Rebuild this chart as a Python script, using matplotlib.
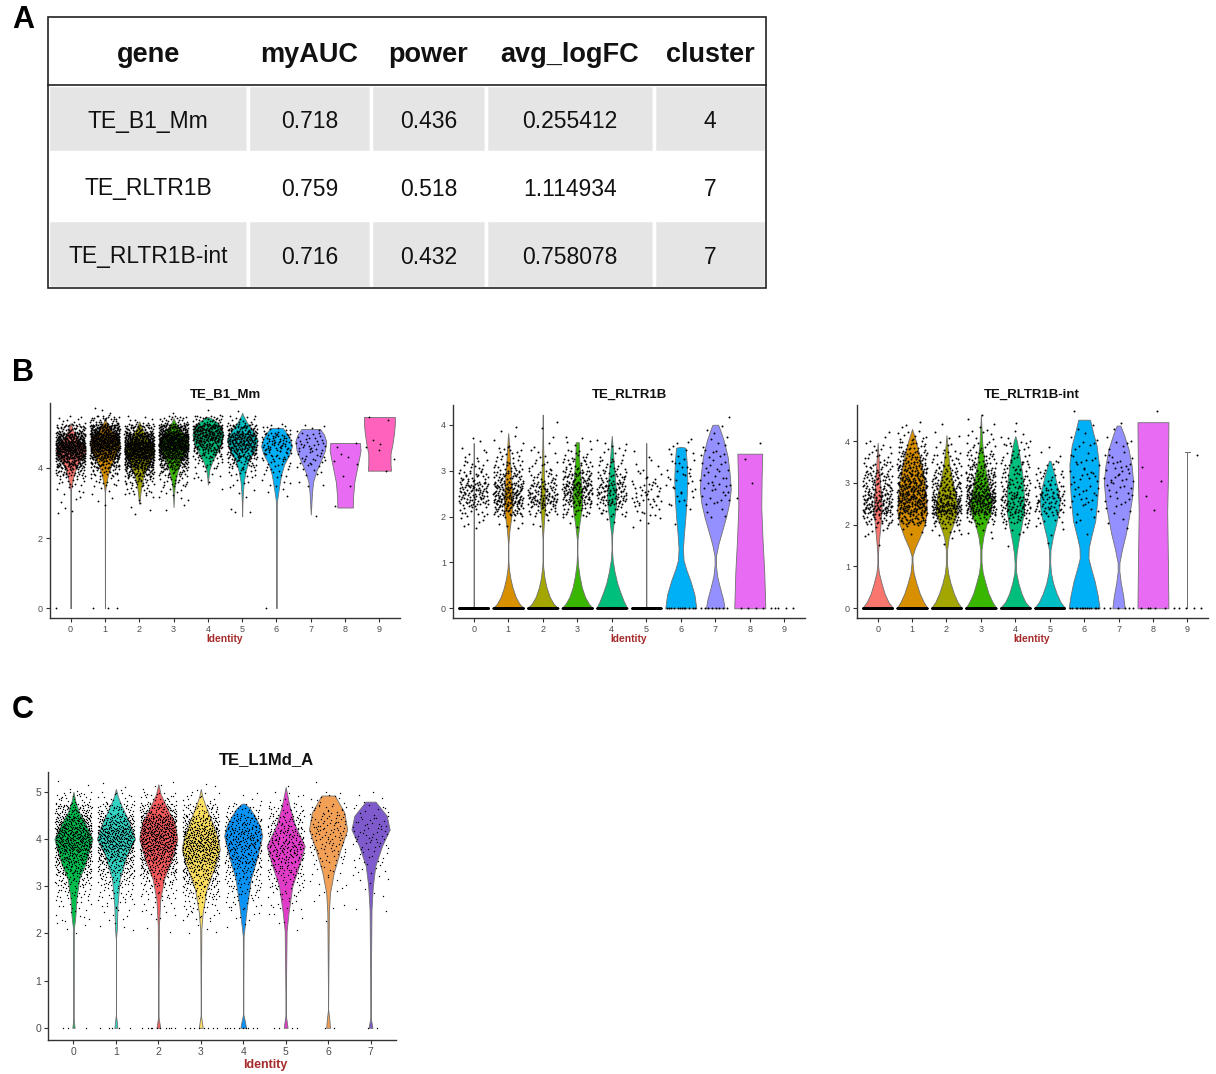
import numpy as np
import matplotlib
matplotlib.use("Agg")
import matplotlib.pyplot as plt
from matplotlib.patches import Rectangle

plt.rcParams['font.family'] = ['Liberation Sans', 'DejaVu Sans']

# ---- panel A : table ----
tab_cols = ['gene', 'myAUC', 'power', 'avg_logFC', 'cluster']
tab_gene = ['TE_B1_Mm', 'TE_RLTR1B', 'TE_RLTR1B-int']
tab_auc = ['0.718', '0.759', '0.716']
tab_power = ['0.436', '0.518', '0.432']
tab_logfc = ['0.255412', '1.114934', '0.758078']
tab_cluster = ['4', '7', '7']

# ---- panel B / C : violin data ----
# violin outlines: (expression, relative width) pairs
b1_prof = [
    [(0, 0), (3.35, 0), (3.45, 0.06), (3.7, 0.15), (3.95, 0.32), (4.15, 0.55), (4.35, 0.85), (4.5, 1.0), (4.65, 0.85), (4.85, 0.45), (5.05, 0.18), (5.28, 0)],
    [(0, 0), (3.3, 0.01), (3.5, 0.06), (3.8, 0.2), (4.1, 0.42), (4.4, 0.75), (4.7, 1.0), (4.9, 0.8), (5.1, 0.35), (5.3, 0.08), (5.42, 0)],
    [(2.98, 0), (3.2, 0.06), (3.5, 0.14), (3.8, 0.3), (4.1, 0.58), (4.35, 0.88), (4.5, 1.0), (4.7, 0.8), (4.95, 0.42), (5.15, 0.15), (5.33, 0)],
    [(2.88, 0), (3.2, 0.03), (3.5, 0.08), (3.8, 0.2), (4.1, 0.4), (4.4, 0.7), (4.65, 1.0), (4.85, 0.85), (5.1, 0.45), (5.3, 0.12), (5.42, 0)],
    [(3.52, 0), (3.7, 0.03), (3.95, 0.1), (4.2, 0.3), (4.45, 0.6), (4.7, 0.88), (4.95, 1.0), (5.15, 0.9), (5.3, 0.6), (5.42, 0.2), (5.45, 0)],
    [(2.62, 0), (3.0, 0.02), (3.3, 0.05), (3.6, 0.1), (3.9, 0.22), (4.2, 0.42), (4.5, 0.8), (4.8, 1.0), (5.05, 0.7), (5.3, 0.3), (5.5, 0.06), (5.57, 0)],
    [(0, 0), (2.9, 0.01), (3.1, 0.05), (3.4, 0.15), (3.8, 0.3), (4.1, 0.5), (4.4, 0.85), (4.62, 1.0), (4.85, 0.85), (5.05, 0.55), (5.14, 0.4), (5.14, 0)],
    [(2.67, 0), (2.9, 0.03), (3.3, 0.08), (3.6, 0.15), (3.9, 0.35), (4.2, 0.65), (4.5, 0.92), (4.76, 1.0), (4.95, 0.85), (5.11, 0.6), (5.11, 0)],
    [(2.87, 0), (2.87, 0.5), (3.2, 0.52), (3.6, 0.6), (4.0, 0.78), (4.3, 0.92), (4.5, 1.0), (4.71, 0.96), (4.71, 0)],
    [(3.92, 0), (3.92, 0.75), (4.1, 0.72), (4.4, 0.72), (4.7, 0.85), (5.0, 0.95), (5.25, 1.0), (5.45, 1.0), (5.45, 0)],
]
b2_prof = [
    [(0, 1.0), (0.02, 0), (3.6, 0)],
    [(0, 1.0), (0.1, 0.72), (0.25, 0.48), (0.45, 0.28), (0.65, 0.14), (0.85, 0.05), (1.05, 0.01), (1.4, 0.01), (1.7, 0.08), (2.0, 0.2), (2.25, 0.28), (2.6, 0.24), (3.0, 0.16), (3.4, 0.08), (3.7, 0.03), (3.82, 0)],
    [(0, 1.0), (0.1, 0.7), (0.25, 0.45), (0.45, 0.25), (0.65, 0.12), (0.9, 0.03), (1.1, 0.005), (1.5, 0.01), (1.9, 0.08), (2.25, 0.16), (2.6, 0.12), (3.0, 0.07), (3.5, 0.03), (3.95, 0.01), (4.22, 0)],
    [(0, 1.0), (0.1, 0.75), (0.25, 0.5), (0.45, 0.3), (0.7, 0.15), (0.95, 0.05), (1.2, 0.01), (1.5, 0.02), (1.8, 0.12), (2.1, 0.25), (2.4, 0.32), (2.7, 0.26), (3.0, 0.18), (3.3, 0.12), (3.62, 0.1), (3.62, 0)],
    [(0, 1.0), (0.15, 0.78), (0.35, 0.55), (0.55, 0.35), (0.8, 0.18), (1.05, 0.06), (1.3, 0.01), (1.6, 0.03), (1.9, 0.14), (2.2, 0.26), (2.45, 0.3), (2.8, 0.22), (3.2, 0.12), (3.5, 0.06), (3.76, 0)],
    [(0, 1.0), (0.02, 0), (3.6, 0)],
    [(0, 1.0), (0.3, 0.88), (0.6, 0.62), (0.85, 0.35), (1.05, 0.18), (1.3, 0.14), (1.6, 0.2), (2.0, 0.3), (2.4, 0.38), (2.8, 0.42), (3.2, 0.38), (3.5, 0.3), (3.52, 0)],
    [(0, 0.6), (0.2, 0.5), (0.45, 0.3), (0.7, 0.12), (0.95, 0.04), (1.15, 0.05), (1.4, 0.2), (1.7, 0.45), (2.0, 0.7), (2.3, 0.9), (2.6, 1.0), (2.95, 0.92), (3.3, 0.8), (3.65, 0.55), (3.9, 0.3), (4.0, 0.18), (4.0, 0)],
    [(0, 1.0), (0.8, 0.93), (1.5, 0.82), (2.2, 0.74), (2.8, 0.76), (3.37, 0.8), (3.37, 0)],
    [],
]
b3_prof = [
    [(0, 1.0), (0.15, 0.7), (0.35, 0.45), (0.6, 0.25), (0.85, 0.08), (1.05, 0.02), (1.3, 0.02), (1.6, 0.08), (2.0, 0.18), (2.4, 0.26), (2.8, 0.2), (3.2, 0.12), (3.6, 0.06), (3.96, 0)],
    [(0, 1.0), (0.15, 0.75), (0.35, 0.5), (0.6, 0.28), (0.85, 0.1), (1.1, 0.03), (1.25, 0.03), (1.45, 0.2), (1.7, 0.5), (2.0, 0.8), (2.3, 0.95), (2.6, 0.92), (3.05, 0.8), (3.4, 0.62), (3.7, 0.45), (4.0, 0.25), (4.29, 0)],
    [(0, 1.0), (0.15, 0.72), (0.35, 0.48), (0.6, 0.26), (0.85, 0.1), (1.05, 0.04), (1.4, 0.04), (1.7, 0.15), (1.95, 0.38), (2.2, 0.62), (2.4, 0.7), (2.7, 0.6), (3.0, 0.42), (3.4, 0.2), (3.8, 0.08), (4.14, 0)],
    [(0, 1.0), (0.15, 0.75), (0.35, 0.5), (0.6, 0.3), (0.85, 0.12), (1.1, 0.04), (1.4, 0.04), (1.7, 0.15), (2.0, 0.35), (2.25, 0.62), (2.5, 0.72), (2.8, 0.55), (3.1, 0.4), (3.5, 0.22), (3.9, 0.1), (4.3, 0.04), (4.63, 0)],
    [(0, 1.0), (0.15, 0.65), (0.35, 0.4), (0.6, 0.2), (0.85, 0.06), (1.05, 0.04), (1.3, 0.08), (1.6, 0.2), (1.9, 0.36), (2.3, 0.55), (2.7, 0.55), (3.05, 0.5), (3.4, 0.38), (3.7, 0.25), (4.0, 0.1), (4.12, 0)],
    [(0, 1.0), (0.15, 0.7), (0.35, 0.45), (0.6, 0.22), (0.85, 0.08), (1.1, 0.03), (1.4, 0.05), (1.7, 0.2), (2.0, 0.4), (2.3, 0.58), (2.6, 0.65), (2.9, 0.5), (3.2, 0.3), (3.53, 0.05), (3.53, 0)],
    [(0, 1.0), (0.3, 0.88), (0.65, 0.68), (0.95, 0.45), (1.2, 0.28), (1.45, 0.3), (1.7, 0.45), (2.1, 0.72), (2.6, 0.85), (3.0, 0.92), (3.45, 0.95), (3.9, 0.8), (4.2, 0.58), (4.51, 0.38), (4.51, 0)],
    [(0, 0.4), (0.3, 0.3), (0.6, 0.15), (0.9, 0.05), (1.1, 0.06), (1.4, 0.22), (1.8, 0.48), (2.2, 0.68), (2.6, 0.85), (3.0, 0.95), (3.4, 0.85), (3.8, 0.65), (4.15, 0.35), (4.37, 0.12), (4.37, 0)],
    [(0, 1.0), (1.0, 0.97), (1.8, 0.94), (2.3, 0.92), (3.0, 0.96), (4.0, 0.99), (4.45, 1.0), (4.45, 0)],
    [(0, 0), (3.73, 0), (3.73, 0.18)],
]
c_prof = [
    [(0, 0.06), (0.1, 0.03), (0.2, 0), (2.09, 0.02), (2.37, 0.1), (2.72, 0.15), (3.15, 0.3), (3.5, 0.65), (4.0, 1.0), (4.35, 0.6), (4.56, 0.3), (4.8, 0.1), (5.0, 0)],
    [(0, 0.08), (0.15, 0.04), (0.28, 0), (1.87, 0), (2.1, 0.05), (2.58, 0.08), (3.15, 0.2), (3.64, 0.55), (4.0, 1.0), (4.35, 0.7), (4.7, 0.3), (4.9, 0.1), (5.06, 0)],
    [(0, 0.1), (0.12, 0.05), (0.25, 0), (2.16, 0.03), (2.72, 0.1), (3.15, 0.3), (3.57, 0.7), (4.0, 1.0), (4.35, 0.85), (4.7, 0.4), (4.95, 0.12), (5.16, 0)],
    [(0, 0.1), (0.15, 0.05), (0.28, 0), (2.09, 0.03), (2.44, 0.1), (2.93, 0.3), (3.43, 0.75), (3.78, 1.0), (4.0, 0.9), (4.35, 0.6), (4.7, 0.25), (4.9, 0.08), (5.06, 0)],
    [(0, 0.15), (0.15, 0.08), (0.3, 0), (1.94, 0.02), (2.16, 0.08), (2.58, 0.2), (3.15, 0.4), (3.64, 0.75), (4.07, 1.0), (4.3, 0.85), (4.49, 0.6), (4.65, 0.35), (4.74, 0.1), (4.75, 0)],
    [(0, 0.1), (0.15, 0.05), (0.28, 0), (2.05, 0.05), (2.44, 0.15), (3.0, 0.35), (3.43, 0.7), (3.85, 1.0), (4.28, 0.5), (4.7, 0.2), (5.1, 0)],
    [(0, 0.1), (0.2, 0.06), (0.4, 0), (2.44, 0.04), (2.86, 0.1), (3.29, 0.3), (3.78, 0.65), (4.2, 1.0), (4.56, 0.85), (4.92, 0.35), (4.92, 0)],
    [(0, 0.1), (0.12, 0.05), (0.22, 0), (2.5, 0.05), (3.0, 0.12), (3.43, 0.25), (3.85, 0.6), (4.2, 1.0), (4.49, 0.85), (4.79, 0.26), (4.79, 0)],
]

# cells per expression bin (bin width 0.25) and cells with zero expression
b1_bin0 = 2.5
b1_counts = [
    [1, 2, 3, 6, 12, 35, 80, 150, 170, 120, 45, 8, 0],
    [0, 1, 2, 5, 10, 25, 60, 120, 170, 180, 120, 30, 3],
    [1, 2, 5, 12, 28, 60, 120, 180, 190, 140, 55, 8, 0],
    [0, 2, 4, 8, 15, 30, 70, 130, 180, 180, 100, 20, 1],
    [0, 0, 0, 1, 3, 6, 14, 35, 65, 100, 100, 30, 1],
    [1, 2, 1, 3, 5, 12, 28, 55, 80, 90, 55, 12, 1],
    [0, 0, 1, 3, 5, 8, 12, 20, 30, 30, 12, 0, 0],
    [1, 0, 0, 1, 2, 5, 10, 12, 15, 12, 5, 0, 0],
    [0, 1, 0, 1, 0, 1, 2, 2, 2, 0, 0, 0, 0],
    [0, 0, 0, 0, 0, 1, 0, 2, 2, 1, 0, 2, 0],
]
b1_zeros = [1, 3, 0, 0, 0, 0, 1, 0, 0, 0]

b2_bin0 = 1.5
b2_counts = [
    [0, 6, 15, 40, 45, 25, 12, 6, 2, 0, 0],
    [0, 5, 40, 70, 60, 35, 20, 12, 5, 2, 0],
    [0, 3, 20, 55, 40, 18, 10, 5, 3, 1, 1],
    [0, 3, 20, 50, 65, 40, 22, 12, 5, 0, 0],
    [0, 2, 15, 40, 45, 25, 15, 8, 4, 0, 0],
    [0, 4, 8, 18, 15, 8, 4, 2, 0, 0, 0],
    [0, 1, 2, 6, 8, 9, 8, 6, 4, 0, 0],
    [0, 1, 3, 8, 10, 8, 8, 7, 5, 3, 1],
    [0, 0, 0, 1, 1, 0, 0, 1, 1, 0, 0],
    [0, 0, 0, 0, 0, 0, 0, 0, 0, 0, 0],
]
b2_zeros = [300, 400, 400, 400, 300, 200, 12, 8, 4, 5]

b3_bin0 = 1.5
b3_counts = [
    [2, 5, 25, 60, 50, 35, 30, 20, 10, 6, 3, 0, 0],
    [0, 5, 40, 70, 80, 70, 60, 50, 35, 20, 10, 3, 0],
    [2, 10, 30, 80, 60, 40, 30, 20, 12, 6, 3, 1, 0],
    [1, 4, 20, 70, 90, 60, 45, 30, 20, 12, 6, 3, 2],
    [1, 5, 20, 40, 35, 25, 20, 18, 12, 10, 5, 1, 0],
    [1, 3, 8, 25, 30, 22, 12, 8, 3, 1, 0, 0, 0],
    [0, 1, 3, 6, 8, 8, 9, 7, 7, 5, 3, 2, 1],
    [0, 1, 2, 5, 6, 8, 10, 9, 7, 4, 2, 2, 0],
    [0, 0, 0, 1, 1, 0, 1, 1, 0, 0, 0, 0, 1],
    [0, 0, 0, 0, 0, 0, 0, 0, 1, 0, 0, 0, 0],
]
b3_zeros = [300, 400, 300, 400, 300, 250, 14, 6, 5, 5]

c_bin0 = 2.0
c_counts = [
    [4, 8, 13, 26, 45, 80, 120, 160, 170, 130, 80, 26, 4],
    [4, 6, 13, 20, 40, 65, 105, 145, 155, 105, 52, 16, 3],
    [2, 6, 10, 20, 40, 80, 120, 160, 170, 145, 80, 26, 4],
    [4, 13, 20, 40, 65, 90, 130, 145, 130, 90, 45, 13, 3],
    [2, 6, 13, 24, 32, 45, 65, 78, 78, 58, 26, 5, 0],
    [2, 5, 10, 16, 26, 40, 58, 65, 58, 45, 26, 8, 1],
    [0, 1, 3, 4, 6, 10, 18, 26, 32, 28, 20, 10, 1],
    [0, 1, 1, 3, 5, 8, 12, 16, 18, 16, 10, 4, 0],
]
c_zeros = [3, 5, 10, 8, 10, 4, 2, 2]

b_colors = ['#F8766D', '#D89000', '#A3A500', '#39B600', '#00BF7D',
            '#00BFC4', '#00B0F6', '#9590FF', '#E76BF3', '#FF62BC']
c_colors = ['#00BE4C', '#33D4C4', '#F65C5C', '#FFE060',
            '#0A92F5', '#E03CC8', '#F2A055', '#7E5ACC']

W, H = 1216, 1074
fig = plt.figure(figsize=(W / 100, H / 100), dpi=100)


def px_axes(l, t, r, b):
    return fig.add_axes([l / W, 1 - b / H, (r - l) / W, (b - t) / H])


def halton(k, base):
    # van der Corput term, used to spread jitter evenly
    f, r = 1.0, 0.0
    while k > 0:
        f /= base
        r += f * (k % base)
        k //= base
    return r


def violin_panel(ax, profs, counts, bin0, zeros, colors, psize, ymax, yticks, tsize):
    k = 7
    for i, prof in enumerate(profs):
        if prof:
            ys = np.array([p[0] for p in prof])
            ws = np.array([p[1] for p in prof]) * 0.45
            ax.fill_betweenx(ys, i - ws, i + ws, facecolor=colors[i],
                             edgecolor='#707070', linewidth=0.6, zorder=2)
        # jittered cells (horizontal jitter, cells spread inside their bin)
        px, py = [], []
        for j, n in enumerate(counts[i]):
            lo = bin0 + 0.25 * j
            for m in range(n):
                k += 1
                px.append(i + (halton(k, 2) - 0.5) * 0.86)
                py.append(lo + 0.25 * halton(k, 3))
        for m in range(zeros[i]):
            k += 1
            px.append(i + (halton(k, 2) - 0.5) * 0.86)
            py.append(0)
        ax.scatter(px, py, s=psize, c='black', linewidths=0, zorder=3)
    ax.set_xlim(-0.6, len(profs) - 0.4)
    ax.set_ylim(-ymax * 0.05, ymax * 1.05)
    ax.set_xticks(range(len(profs)))
    ax.set_xticklabels([str(i) for i in range(len(profs))])
    ax.set_yticks(yticks)
    for s in ['top', 'right']:
        ax.spines[s].set_visible(False)
    for s in ['left', 'bottom']:
        ax.spines[s].set_color('#333333')
        ax.spines[s].set_linewidth(1.0)
    ax.tick_params(length=3, width=0.8, color='#333333', labelcolor='#4D4D4D',
                   labelsize=tsize, pad=2)


# panel B
axb1 = px_axes(50, 403, 400, 618)
violin_panel(axb1, b1_prof, b1_counts, b1_bin0, b1_zeros, b_colors, 1.7, 5.57, [0, 2, 4], 6.5)
axb2 = px_axes(453, 405, 805, 618)
violin_panel(axb2, b2_prof, b2_counts, b2_bin0, b2_zeros, b_colors, 2.0, 4.22, [0, 1, 2, 3, 4], 6.5)
axb3 = px_axes(857, 405, 1208, 618)
violin_panel(axb3, b3_prof, b3_counts, b3_bin0, b3_zeros, b_colors, 2.0, 4.63, [0, 1, 2, 3, 4], 6.5)
# panel C
axc = px_axes(48, 772, 396, 1040)
violin_panel(axc, c_prof, c_counts, c_bin0, c_zeros, c_colors, 1.0, 5.16, [0, 1, 2, 3, 4, 5], 7.5)

# overlay canvas in pixel units for the table, titles and panel letters
top = fig.add_axes([0, 0, 1, 1], zorder=5)
top.set_xlim(0, W)
top.set_ylim(H, 0)
top.axis('off')
top.patch.set_alpha(0)

col_x = [48, 248, 371, 486, 654, 766]
row_y = [17, 85, 152, 220, 288]
body = [tab_gene, tab_auc, tab_power, tab_logfc, tab_cluster]
for r in range(3):
    y0, y1 = row_y[r + 1], row_y[r + 2]
    for c in range(5):
        x0, x1 = col_x[c], col_x[c + 1]
        if r % 2 == 0:
            top.add_patch(Rectangle((x0, y0), x1 - x0, y1 - y0, facecolor='#E5E5E5',
                                    edgecolor='white', linewidth=2.5))
        top.text((x0 + x1) / 2, (y0 + y1) / 2 + 3, body[c][r], ha='center', va='center',
                 fontsize=16.5, color='#111111')
for c in range(5):
    top.text((col_x[c] + col_x[c + 1]) / 2, (row_y[0] + row_y[1]) / 2 + 4, tab_cols[c],
             ha='center', va='center', fontsize=19.5, fontweight='bold', color='#111111')
top.add_patch(Rectangle((col_x[0], row_y[0]), col_x[-1] - col_x[0], row_y[-1] - row_y[0],
                        facecolor='none', edgecolor='#222222', linewidth=1.2))
top.plot([col_x[0], col_x[-1]], [row_y[1], row_y[1]], color='#222222', linewidth=1.2)

# titles and axis labels
for xc, name in [(225, 'TE_B1_Mm'), (629, 'TE_RLTR1B'), (1032, 'TE_RLTR1B-int')]:
    top.text(xc, 395, name, ha='center', va='center', fontsize=9.5, fontweight='bold', color='#111111')
    top.text(xc, 639, 'Identity', ha='center', va='center', fontsize=7.4, fontweight='bold', color='#A52A2A')
top.text(266, 760, 'TE_L1Md_A', ha='center', va='center', fontsize=12, fontweight='bold', color='#111111')
top.text(265, 1065, 'Identity', ha='center', va='center', fontsize=9, fontweight='bold', color='#A52A2A')

for lx, ly, lab in [(23, 20, 'A'), (23, 373, 'B'), (23, 710, 'C')]:
    top.text(lx, ly, lab, ha='center', va='center', fontsize=22, fontweight='bold', color='black')

fig.savefig('out.png', dpi=100)
